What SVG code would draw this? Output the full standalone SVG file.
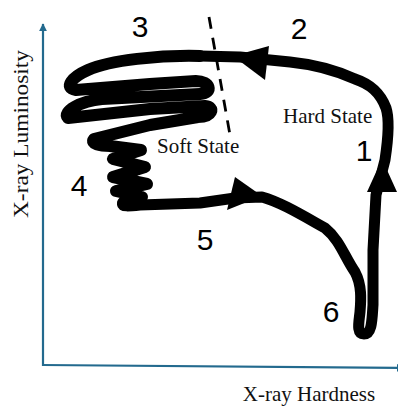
<svg xmlns="http://www.w3.org/2000/svg" width="398" height="406" viewBox="0 0 398 406">
<style>
.axis{fill:none;stroke:#236a8e;stroke-width:2.2}
.curve{fill:none;stroke:#000;stroke-width:11;stroke-linejoin:round;stroke-linecap:round}
.scrib{fill:none;stroke:#000;stroke-width:12;stroke-linejoin:round;stroke-linecap:round}
.dash{fill:none;stroke:#000;stroke-width:2.8;stroke-dasharray:12 9}
.head{fill:#000}
.lbl{font-family:"Liberation Serif","Times New Roman",serif;font-size:21px;fill:#111}
.num{font-family:"Liberation Sans",Arial,sans-serif;font-size:30px;fill:#000;text-anchor:middle}
</style>
<defs>
<marker id="axb" viewBox="0 0 10 10" refX="9" refY="5" markerWidth="8" markerHeight="9" orient="auto" markerUnits="userSpaceOnUse">
<path d="M0,0 L10,5 L0,10 Z" fill="#236a8e"/>
</marker>
</defs>
<rect width="398" height="406" fill="#fff"/>
<g id="axes">
<path class="axis" d="M43,366 L43,24" marker-end="url(#axb)"/>
<path class="axis" d="M42,365 L404,368" marker-end="url(#axb)"/>
<text class="lbl" text-anchor="middle" transform="translate(28,134) rotate(-90)" textLength="168" lengthAdjust="spacingAndGlyphs">X-ray Luminosity</text>
<text class="lbl" x="309" y="401" text-anchor="middle">X-ray Hardness</text>
</g>
<g id="connectors">
<path class="dash" d="M209,17 L230,135"/>
<path class="scrib" d="M200,56 C160,55 110,60 88,70 C72,77 63,88 76,90 L150,84 L196,81 C210,81 214,93 200,94 L102,99 C80,101 62,112 68,118 L150,109 L205,106 C216,107 212,117 198,117 L150,125 L94,139 C90,144 100,146 110,146 L141,150 L113,159 L145,167 L113,177 L147,184 L116,191 L142,197 L123,203"/>
<path class="curve" d="M123,203 C120,207 130,206 140,205 L200,203 L235,198 L262,197 C280,202 300,214 325,228 C340,240 345,258 355,272 C362,285 361,300 360,312 C359,322 356,334 364,334 C372,334 372,320 373,305 L373,250 L376,195 L385,160 C388,140 390,120 386,108 C380,92 370,84 355,79 C335,70 310,64 290,62 L240,57 L200,56"/>
<polygon class="head" points="233,56 269,46 265,80"/>
<polygon class="head" points="382,159 367,192 397,192"/>
<polygon class="head" points="262,196 235,177 227,210"/>
</g>
<g id="labels">
<text class="lbl" x="157" y="153">Soft State</text>
<text class="lbl" x="283" y="123">Hard State</text>
<text class="num" x="140" y="37">3</text>
<text class="num" x="299" y="39">2</text>
<text class="num" x="364" y="161">1</text>
<text class="num" x="79" y="196">4</text>
<text class="num" x="205" y="250">5</text>
<text class="num" x="331" y="322">6</text>
</g>
</svg>
